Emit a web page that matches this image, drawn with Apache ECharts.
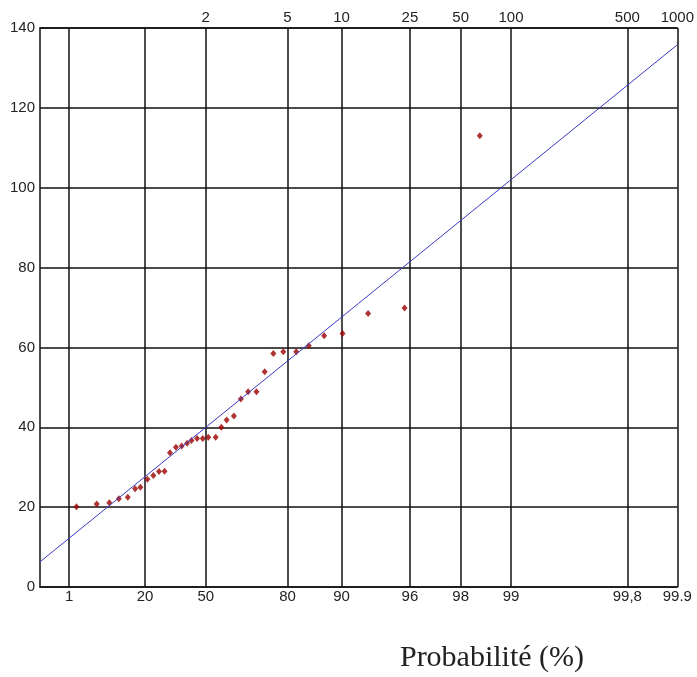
<!DOCTYPE html>
<html>
<head>
<meta charset="utf-8">
<script src="https://cdn.jsdelivr.net/npm/echarts@6/dist/echarts.min.js"></script>
<style>html,body{margin:0;padding:0;background:#fff;}#chart{width:697px;height:677px;}</style>
</head>
<body>
<div id="chart"></div>
<script>
// Bottom axis: non-exceedance probability (%)
const probLabels = ['1', '20', '50', '80', '90', '96', '98', '99', '99,8', '99.9'];
const probValues = [1, 20, 50, 80, 90, 96, 98, 99, 99.8, 99.9];
// Top axis: return period (years)
const returnLabels = ['2', '5', '10', '25', '50', '100', '500', '1000'];
const returnValues = [2, 5, 10, 25, 50, 100, 500, 1000];
// Y axis
const yMin = 0, yMax = 140, yStep = 20;
// Observed points: Gumbel reduced variable u, value
const pointU = [-1.427, -1.146, -0.971, -0.839, -0.715, -0.613, -0.540, -0.443, -0.360, -0.282,
                -0.205, -0.130, -0.047, 0.033, 0.108, 0.168, 0.246, 0.325, 0.402, 0.504,
                0.582, 0.656, 0.757, 0.853, 0.954, 1.070, 1.184, 1.304, 1.442, 1.621,
                1.795, 2.009, 2.264, 2.618, 3.124, 4.167];
const pointY = [20.1, 20.8, 21.1, 22.1, 22.5, 24.6, 25.0, 27.0, 27.9, 28.9,
                29.0, 33.6, 35.0, 35.3, 36.0, 36.7, 37.2, 37.2, 37.5, 37.5,
                40.0, 41.8, 42.8, 47.1, 48.9, 48.9, 53.9, 58.5, 58.9, 58.9,
                60.4, 62.9, 63.5, 68.5, 69.9, 113.0];
// Fitted line: values at the left (0.1 %) and right (99.9 %) edges
const fitY = [6.3, 135.8];

const gumbel = p => -Math.log(-Math.log(p));
const probU = probValues.map(p => gumbel(p / 100));
const returnU = returnValues.map(t => gumbel(1 - 1 / t));
const xMin = gumbel(0.001);
const xMax = Math.max.apply(null, probU.concat(returnU));

function lookup(vals, labels) {
  return function (v) {
    for (let i = 0; i < vals.length; i++) if (Math.abs(vals[i] - v) < 1e-6) return labels[i];
    return '';
  };
}

const labelFont = { fontFamily: 'Liberation Sans', fontSize: 15, color: '#222' };
const chart = echarts.init(document.getElementById('chart'));
chart.setOption({
  animation: false,
  grid: { left: 40, right: 16, top: 28, bottom: 90 },
  xAxis: [{
    type: 'value', position: 'bottom', min: xMin, max: xMax,
    axisLine: { show: true, onZero: false, lineStyle: { color: '#111', width: 1.5 } },
    axisTick: { show: false, customValues: probU },
    axisLabel: Object.assign({ customValues: probU, formatter: lookup(probU, probLabels), margin: 2, hideOverlap: false, showMinLabel: true, showMaxLabel: true }, labelFont),
    splitLine: { show: true, lineStyle: { color: '#111', width: 1.5 } }
  }, {
    type: 'value', position: 'top', min: xMin, max: xMax,
    axisLine: { show: true, onZero: false, lineStyle: { color: '#111', width: 1.5 } },
    axisTick: { show: false, customValues: returnU },
    axisLabel: Object.assign({ customValues: returnU, formatter: lookup(returnU, returnLabels), margin: 3, hideOverlap: false, showMinLabel: true, showMaxLabel: true }, labelFont),
    splitLine: { show: false }
  }],
  yAxis: {
    type: 'value', min: yMin, max: yMax, interval: yStep,
    axisLine: { show: true, onZero: false, lineStyle: { color: '#111', width: 1.5 } },
    axisTick: { show: false },
    axisLabel: Object.assign({ margin: 5 }, labelFont),
    splitLine: { show: true, lineStyle: { color: '#111', width: 1.5 } }
  },
  series: [{
    type: 'line', xAxisIndex: 0,
    data: [[xMin, fitY[0]], [xMax, fitY[1]]],
    showSymbol: false, silent: true,
    lineStyle: { color: '#3a3ac4', width: 1 }
  }, {
    type: 'scatter', xAxisIndex: 0,
    data: pointU.map((u, i) => [u, pointY[i]]),
    symbol: 'diamond', symbolSize: [6, 7],
    itemStyle: { color: '#9b0000' }
  }],
  graphic: [{
    type: 'text', x: 492, y: 658,
    style: { text: 'Probabilité (%)', font: '30px "Liberation Serif"', fill: '#222', textAlign: 'center', textVerticalAlign: 'middle' }
  }]
});
</script>
</body>
</html>
